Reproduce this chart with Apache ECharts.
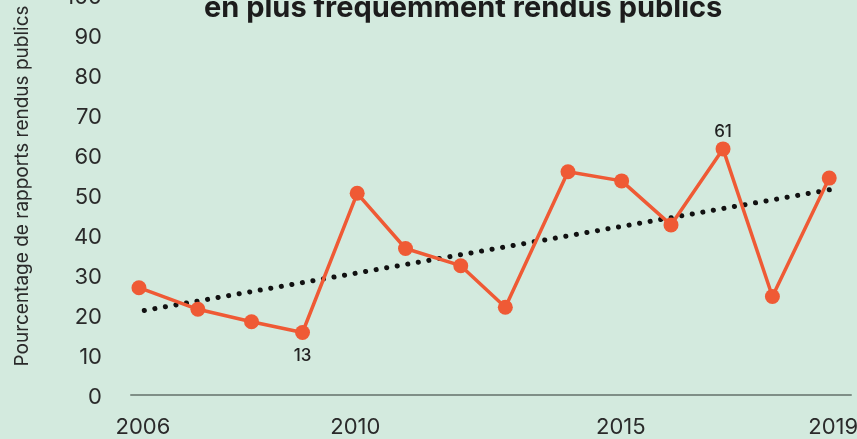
<!DOCTYPE html>
<html>
<head>
<meta charset="utf-8">
<script src="https://cdn.jsdelivr.net/npm/echarts@6/dist/echarts.min.js"></script>
<style>
html,body{margin:0;padding:0;background:#d3eade;overflow:hidden;}
#c{position:relative;top:-6px;width:857px;height:445px;}
</style>
</head>
<body>
<div id="c"></div>
<script>
// year positions (points are not evenly spaced there)
var years = [2006.0, 2007.11, 2008.12, 2009.08, 2010.11, 2011.02, 2012.06, 2012.9, 2014.08, 2015.09, 2016.02, 2017.0, 2017.93, 2019.0];
var values = [26.7, 21.3, 18.2, 15.5, 50.3, 36.5, 32.2, 21.8, 55.7, 53.4, 42.4, 61.4, 24.5, 54.1];
var pointLabels = ['', '', '', '13', '', '', '', '', '', '', '', '61', '', ''];
var trendYears = [2006.1, 2019.1];
var trendValues = [21.0, 51.4];
var xTickLabels = [2006, 2010, 2015, 2019];
var yTicks = [0, 10, 20, 30, 40, 50, 60, 70, 80, 90, 100];
var titleText = 'en plus fréquemment rendus publics';
var yAxisTitle = 'Pourcentage de rapports rendus publics';

var FONT = 'Inter, "Liberation Sans", sans-serif';
var chart = echarts.init(document.getElementById('c'), null, {renderer: 'canvas'});

var lineData = years.map(function (y, i) {
  var item = {value: [y, values[i]]};
  if (pointLabels[i]) {
    var below = i > 0 && i < years.length - 1 && values[i] < values[i - 1] && values[i] < values[i + 1];
    item.label = {
      show: true,
      position: below ? 'bottom' : 'top',
      distance: below ? 7 : 1,
      formatter: pointLabels[i],
      color: '#222',
      fontFamily: FONT,
      fontSize: 17,
      fontWeight: 500
    };
  }
  return item;
});

chart.setOption({
  backgroundColor: '#d3eade',
  animation: false,
  graphic: [
    {
      type: 'text',
      left: 204,
      top: 0,
      style: {
        text: titleText,
        fontFamily: FONT,
        fontSize: 29,
        fontWeight: 700,
        fill: '#1c1c1c'
      }
    },
    {
      type: 'text',
      x: 22,
      y: 192,
      rotation: Math.PI / 2,
      style: {
        text: yAxisTitle,
        fontFamily: FONT,
        fontSize: 19,
        fill: '#2a2a2a',
        align: 'center',
        verticalAlign: 'middle'
      }
    }
  ],
  grid: {left: 131, right: 6, top: 0.5, bottom: 44.5, containLabel: false, outerBoundsMode: 'none'},
  xAxis: {
    type: 'value',
    min: 2005.85,
    max: 2019.41,
    axisLine: {show: true, lineStyle: {color: '#7f8f87', width: 2}},
    axisTick: {show: false},
    splitLine: {show: false},
    axisLabel: {
      customValues: xTickLabels,
      color: '#2a2a2a',
      fontFamily: FONT,
      fontSize: 22,
      margin: 22,
      formatter: function (v) { return '{a|' + v + '}'; },
      rich: {a: {fontFamily: FONT, fontSize: 22, color: '#2a2a2a', padding: [0, 0, 0, 8]}}
    }
  },
  yAxis: {
    type: 'value',
    min: 0,
    max: 100,
    interval: 10,
    axisLine: {show: false},
    axisTick: {show: false},
    splitLine: {show: false},
    axisLabel: {
      customValues: yTicks,
      color: '#2a2a2a',
      fontFamily: FONT,
      fontSize: 22,
      margin: 29,
      formatter: function (v) { return '{a|' + v + '}'; },
      rich: {a: {fontFamily: FONT, fontSize: 22, color: '#2a2a2a', padding: [6, 0, 0, 0]}}
    }
  },
  series: [
    {
      type: 'line',
      data: trendYears.map(function (y, i) { return [y, trendValues[i]]; }),
      symbol: 'none',
      lineStyle: {color: '#111', width: 5, type: [0.1, 10.6], cap: 'round'},
      z: 3,
      silent: true
    },
    {
      type: 'line',
      data: lineData,
      symbol: 'circle',
      symbolSize: 15,
      itemStyle: {color: '#ef5a35'},
      lineStyle: {color: '#ef5a35', width: 3.5},
      z: 4
    }
  ]
});
</script>
</body>
</html>
